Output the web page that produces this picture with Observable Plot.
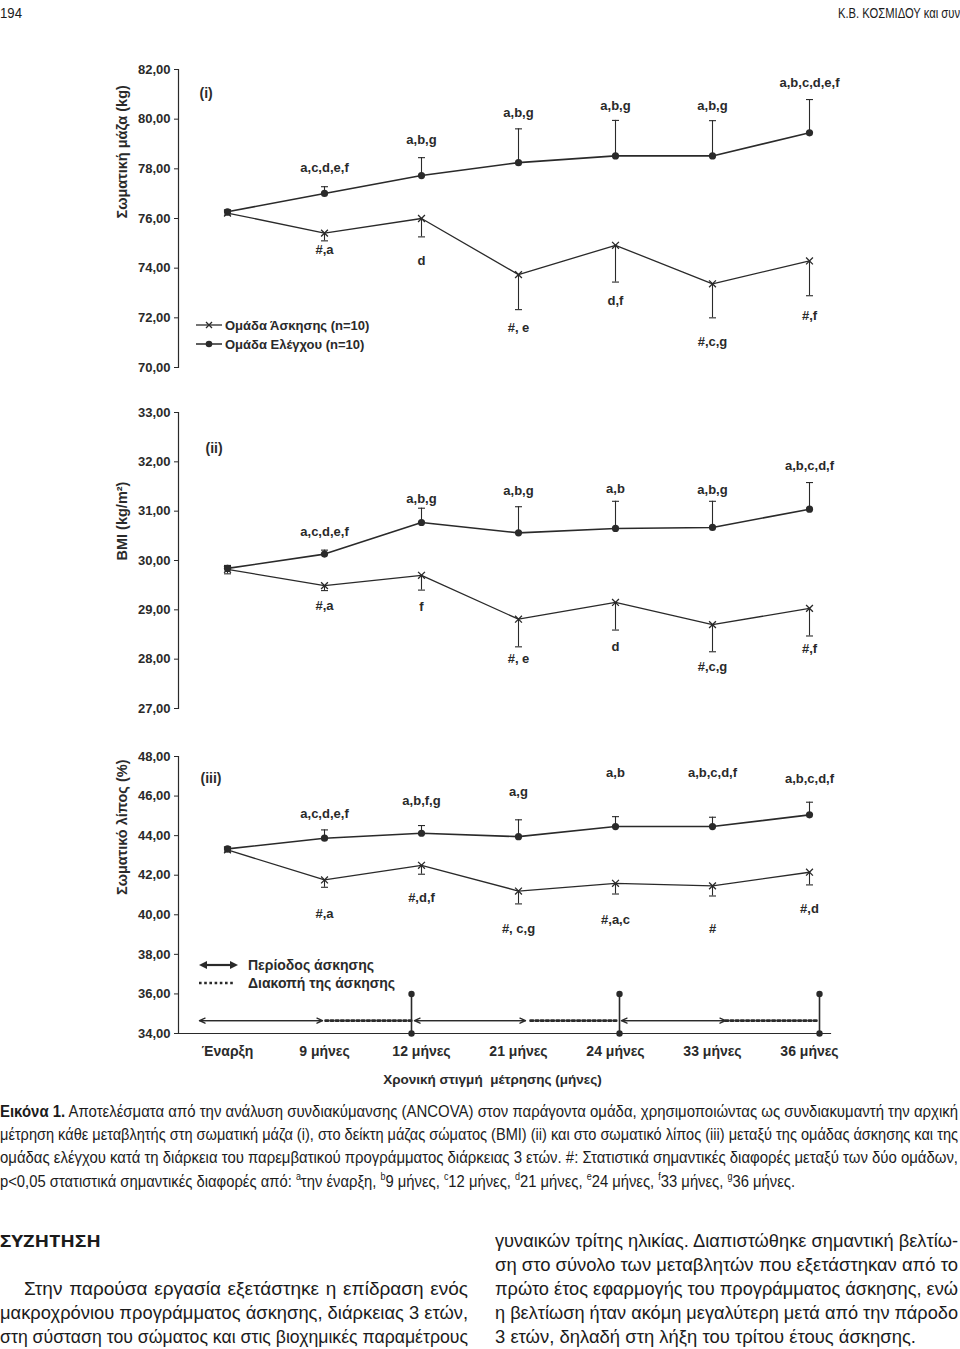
<!DOCTYPE html>
<html lang="el">
<head>
<meta charset="utf-8">
<script src="https://cdn.jsdelivr.net/npm/d3@7"></script>
<script src="https://cdn.jsdelivr.net/npm/@observablehq/plot@0.6"></script>
<style>
html,body{margin:0;padding:0;background:#fff;}
body{position:relative;width:960px;height:1349px;overflow:hidden;color:#1b1b1b;font-family:"Liberation Sans",Arial,sans-serif;}
.a{position:absolute;}
.ln{position:absolute;white-space:nowrap;line-height:1;transform-origin:0 0;}
.bt{font-size:19px;}
svg.legend{position:absolute;overflow:visible;}
</style>
</head>
<body>
<div class="ln" data-w="22" style="left:0;top:5px;font-size:15px;">194</div>
<div class="ln" data-w="122" style="left:838px;top:5px;font-size:15px;">Κ.Β. ΚΟΣΜΙΔΟΥ και συν</div>

<div id="p1" class="a" style="left:0;top:50px"></div>
<div id="p2" class="a" style="left:0;top:395px"></div>
<div id="p3" class="a" style="left:0;top:740px"></div>

<svg class="legend" style="left:0;top:0" width="960" height="1100">
  <g stroke="#2a2a2a" fill="#2a2a2a" font-family="Liberation Sans, Arial, sans-serif" font-weight="bold" font-size="13">
    <line x1="196" y1="325" x2="222" y2="325" stroke-width="1.3"/>
    <path d="M206,322L212,328M212,322L206,328" stroke-width="1.3"/>
    <text x="225" y="329.5" stroke="none">Ομάδα Άσκησης (n=10)</text>
    <line x1="196" y1="344" x2="222" y2="344" stroke-width="1.5"/>
    <circle cx="209" cy="344" r="3.3" stroke="none"/>
    <text x="225" y="348.5" stroke="none">Ομάδα Ελέγχου (n=10)</text>

    <line x1="204" y1="965" x2="233" y2="965" stroke-width="2.2"/>
    <polygon points="199,965 207,961 207,969" stroke="none"/>
    <polygon points="238,965 230,961 230,969" stroke="none"/>
    <text x="248" y="970" stroke="none" font-size="14">Περίοδος άσκησης</text>
    <line x1="199" y1="983" x2="234" y2="983" stroke-width="2.6" stroke-dasharray="2.6 2.6"/>
    <text x="248" y="988" stroke="none" font-size="14">Διακοπή της άσκησης</text>
  </g>
</svg>

<div class="ln" data-w="958" data-j="1" style="left:0;top:1103px;font-size:16.5px;"><b>Εικόνα 1.</b> Αποτελέσματα από την ανάλυση συνδιακύμανσης (ANCOVA) στον παράγοντα ομάδα, χρησιμοποιώντας ως συνδιακυμαντή την αρχική</div>
<div class="ln" data-w="958" data-j="1" style="left:0;top:1126px;font-size:16.5px;">μέτρηση κάθε μεταβλητής στη σωματική μάζα (i), στο δείκτη μάζας σώματος (BMI) (ii) και στο σωματικό λίπος (iii) μεταξύ της ομάδας άσκησης και της</div>
<div class="ln" data-w="958" data-j="1" style="left:0;top:1149px;font-size:16.5px;">ομάδας ελέγχου κατά τη διάρκεια του παρεμβατικού προγράμματος διάρκειας 3 ετών. #: Στατιστικά σημαντικές διαφορές μεταξύ των δύο ομάδων,</div>
<div class="ln" data-w="795" data-j="1" style="left:0;top:1172px;font-size:16.5px;">p&lt;0,05 στατιστικά σημαντικές διαφορές από: <sup style="font-size:10px">a</sup>την έναρξη, <sup style="font-size:10px">b</sup>9 μήνες, <sup style="font-size:10px">c</sup>12 μήνες, <sup style="font-size:10px">d</sup>21 μήνες, <sup style="font-size:10px">e</sup>24 μήνες, <sup style="font-size:10px">f</sup>33 μήνες, <sup style="font-size:10px">g</sup>36 μήνες.</div>

<div class="ln" data-w="101" style="left:0;top:1233px;font-size:16px;font-weight:bold;font-family:'Open Sans','DejaVu Sans',sans-serif;">ΣΥΖΗΤΗΣΗ</div>

<div class="ln bt" data-w="444" data-j="1" style="left:24px;top:1279px;">Στην παρούσα εργασία εξετάστηκε η επίδραση ενός</div>
<div class="ln bt" data-w="468" data-j="1" style="left:0;top:1303px;">μακροχρόνιου προγράμματος άσκησης, διάρκειας 3 ετών,</div>
<div class="ln bt" data-w="468" data-j="1" style="left:0;top:1327px;">στη σύσταση του σώματος και στις βιοχημικές παραμέτρους</div>

<div class="ln bt" data-w="463" data-j="1" style="left:495px;top:1231px;">γυναικών τρίτης ηλικίας. Διαπιστώθηκε σημαντική βελτίω-</div>
<div class="ln bt" data-w="463" data-j="1" style="left:495px;top:1255px;">ση στο σύνολο των μεταβλητών που εξετάστηκαν από το</div>
<div class="ln bt" data-w="463" data-j="1" style="left:495px;top:1279px;">πρώτο έτος εφαρμογής του προγράμματος άσκησης, ενώ</div>
<div class="ln bt" data-w="463" data-j="1" style="left:495px;top:1303px;">η βελτίωση ήταν ακόμη μεγαλύτερη μετά από την πάροδο</div>
<div class="ln bt" data-w="421" data-j="1" style="left:495px;top:1327px;">3 ετών, δηλαδή στη λήξη του τρίτου έτους άσκησης.</div>

<script>
// ---------- DATA ----------
const times = ["Έναρξη","9 μήνες","12 μήνες","21 μήνες","24 μήνες","33 μήνες","36 μήνες"];

// (i) Σωματική μάζα (kg)
const massControl      = [76.27, 77.01, 77.73, 78.25, 78.52, 78.52, 79.45];
const massControlErr   = [0.07, 0.27, 0.72, 1.36, 1.43, 1.42, 1.34];
const massExercise     = [76.22, 75.41, 76.00, 73.74, 74.92, 73.37, 74.29];
const massExerciseErr  = [0.08, 0.31, 0.74, 1.41, 1.48, 1.37, 1.40];
const massControlSig   = ["", "a,c,d,e,f", "a,b,g", "a,b,g", "a,b,g", "a,b,g", "a,b,c,d,e,f"];
const massControlSigY  = [null, 78.05, 79.17, 80.25, 80.52, 80.52, 81.46];
const massExerciseSig  = ["", "#,a", "d", "#, e", "d,f", "#,c,g", "#,f"];
const massExerciseSigY = [null, 74.72, 74.29, 71.58, 72.70, 71.04, 72.09];

// (ii) BMI (kg/m²)
const bmiControl      = [29.84, 30.13, 30.77, 30.56, 30.65, 30.67, 31.04];
const bmiControlErr   = [0.06, 0.08, 0.29, 0.53, 0.55, 0.53, 0.54];
const bmiExercise     = [29.82, 29.49, 29.70, 28.81, 29.15, 28.70, 29.03];
const bmiExerciseErr  = [0.09, 0.10, 0.30, 0.56, 0.56, 0.55, 0.56];
const bmiControlSig   = ["", "a,c,d,e,f", "a,b,g", "a,b,g", "a,b", "a,b,g", "a,b,c,d,f"];
const bmiControlSigY  = [null, 30.58, 31.24, 31.42, 31.46, 31.44, 31.92];
const bmiExerciseSig  = ["", "#,a", "f", "#, e", "d", "#,c,g", "#,f"];
const bmiExerciseSigY = [null, 29.08, 29.06, 28.01, 28.25, 27.84, 28.20];

// (iii) Σωματικό λίπος (%)
const fatControl      = [43.33, 43.87, 44.12, 43.95, 44.46, 44.46, 45.05];
const fatControlErr   = [0.05, 0.42, 0.39, 0.85, 0.50, 0.47, 0.64];
const fatExercise     = [43.28, 41.76, 42.50, 41.20, 41.59, 41.46, 42.15];
const fatExerciseErr  = [0.10, 0.37, 0.45, 0.65, 0.54, 0.51, 0.64];
const fatControlSig   = ["", "a,c,d,e,f", "a,b,f,g", "a,g", "a,b", "a,b,c,d,f", "a,b,c,d,f"];
const fatControlSigY  = [null, 45.10, 45.76, 46.23, 47.19, 47.19, 46.87];
const fatExerciseSig  = ["", "#,a", "#,d,f", "#, c,g", "#,a,c", "#", "#,d"];
const fatExerciseSigY = [null, 40.04, 40.87, 39.28, 39.74, 39.28, 40.28];

// timeline (panel iii)
const exercisePeriods = [["Έναρξη","9 μήνες"],["12 μήνες","21 μήνες"],["24 μήνες","33 μήνες"]];
const breakPeriods    = [["9 μήνες","12 μήνες"],["21 μήνες","24 μήνες"],["33 μήνες","36 μήνες"]];
const assessments     = ["12 μήνες","24 μήνες","36 μήνες"];
const assessRange     = [34, 36];
const timelineY       = 34.65;

// ---------- STYLE ----------
const INK = "#2a2a2a";
const fmt = d => d.toFixed(2).replace(".", ",");
const capSymbol = {draw(ctx){ ctx.moveTo(-3.5,0); ctx.lineTo(3.5,0); }};
const solidNudge = [[-28,2],[-7,-7],[6,-13]];
const dotNudge   = [[1,9],[12,-3],[13,-8]];
const assessNudge = [-10,4,10];

function rows(c, ce, e, ee, cs, csy, es, esy) {
  return times.map((t,i)=>({t, c:c[i], ce:ce[i], e:e[i], ee:ee[i], cs:cs[i], csy:csy[i], es:es[i], esy:esy[i]}));
}

function panel({data, domain, ticks, height, marginTop, marginBottom, ylabel, tag, tagDx, tagDy, extra = [], bottom = false}) {
  return Plot.plot({
    width: 960, height, marginLeft: 178, marginRight: 130, marginTop, marginBottom,
    style: {fontFamily: '"Liberation Sans", Arial, sans-serif', fontSize: "13px", fontWeight: "bold", color: INK, background: "transparent", overflow: "visible"},
    x: {type: "point", domain: times, range: [227, 809], padding: 0, axis: bottom ? undefined : null},
    y: {domain},
    marks: [
      Plot.frame({anchor: "left", stroke: INK, strokeWidth: 1.2}),
      bottom ? Plot.frame({anchor: "bottom", stroke: INK, strokeWidth: 1.2}) : null,
      Plot.axisY({ticks, tickFormat: fmt, tickSize: 4, tickPadding: 4, label: null, stroke: INK}),
      bottom ? Plot.axisX({tickSize: 0, tickPadding: 13, fontSize: 14, label: null}) : null,
      Plot.text([ylabel], {frameAnchor: "left", text: d => d, rotate: -90, dx: -56, fontSize: 14.5}),
      Plot.text([tag], {frameAnchor: "top-left", text: d => d, dx: tagDx, dy: tagDy, textAnchor: "start", fontSize: 14}),
      ...extra,
      // error bars
      Plot.ruleX(data, {x: "t", y1: "c", y2: d => d.c + d.ce, stroke: INK, strokeWidth: 1.1}),
      Plot.dot(data, {x: "t", y: d => d.c + d.ce, symbol: capSymbol, stroke: INK, strokeWidth: 1.1}),
      Plot.ruleX(data, {x: "t", y1: "e", y2: d => d.e - d.ee, stroke: INK, strokeWidth: 1.1}),
      Plot.dot(data, {x: "t", y: d => d.e - d.ee, symbol: capSymbol, stroke: INK, strokeWidth: 1.1}),
      // lines
      Plot.line(data, {x: "t", y: "e", stroke: INK, strokeWidth: 1.3}),
      Plot.line(data, {x: "t", y: "c", stroke: INK, strokeWidth: 1.6}),
      // markers
      Plot.dot(data, {x: "t", y: "e", symbol: "times", r: 3.2, stroke: INK, strokeWidth: 1.3}),
      Plot.dot(data, {x: "t", y: "c", r: 3.6, fill: INK}),
      // significance labels
      Plot.text(data.filter(d => d.cs), {x: "t", y: "csy", text: "cs"}),
      Plot.text(data.filter(d => d.es), {x: "t", y: "esy", text: "es"})
    ]
  });
}

// timeline marks (panel iii)
const timelineMarks = [];
exercisePeriods.forEach((seg, i) => {
  const [s, e] = solidNudge[i];
  const o = {y1: () => timelineY, y2: () => timelineY, stroke: INK, strokeWidth: 1.3, headLength: 7, headAngle: 50};
  timelineMarks.push(Plot.arrow([seg], {...o, x1: d => d[0], x2: d => d[1], insetStart: s, insetEnd: e}));
  timelineMarks.push(Plot.arrow([seg], {...o, x1: d => d[1], x2: d => d[0], insetStart: e, insetEnd: s}));
});
breakPeriods.forEach((seg, i) => {
  const [s, e] = dotNudge[i];
  timelineMarks.push(Plot.arrow([seg], {x1: d => d[0], x2: d => d[1], y1: () => timelineY, y2: () => timelineY,
    insetStart: s, insetEnd: e, headLength: 0, stroke: INK, strokeWidth: 2.6, strokeDasharray: "2.6 2.6"}));
});
assessments.forEach((t, i) => {
  timelineMarks.push(Plot.ruleX([t], {x: d => d, y1: () => assessRange[0], y2: () => assessRange[1], dx: assessNudge[i], stroke: INK, strokeWidth: 1.6}));
  timelineMarks.push(Plot.dot(assessRange.map(y => ({t, y})), {x: "t", y: "y", dx: assessNudge[i], r: 3.2, fill: INK}));
});
timelineMarks.push(Plot.text(["Χρονική στιγμή  μέτρησης (μήνες)"], {frameAnchor: "bottom", text: d => d, dy: 50, dx: -12, fontSize: 13.5}));

document.getElementById("p1").append(panel({
  data: rows(massControl, massControlErr, massExercise, massExerciseErr, massControlSig, massControlSigY, massExerciseSig, massExerciseSigY),
  domain: [70, 82], ticks: d3.range(70, 82.01, 2), height: 330, marginTop: 19, marginBottom: 13,
  ylabel: "Σωματική μάζα (kg)", tag: "(i)", tagDx: 21, tagDy: 19
}));
document.getElementById("p2").append(panel({
  data: rows(bmiControl, bmiControlErr, bmiExercise, bmiExerciseErr, bmiControlSig, bmiControlSigY, bmiExerciseSig, bmiExerciseSigY),
  domain: [27, 33], ticks: d3.range(27, 33.01, 1), height: 330, marginTop: 17, marginBottom: 17,
  ylabel: "BMI (kg/m²)", tag: "(ii)", tagDx: 27, tagDy: 31
}));
document.getElementById("p3").append(panel({
  data: rows(fatControl, fatControlErr, fatExercise, fatExerciseErr, fatControlSig, fatControlSigY, fatExerciseSig, fatExerciseSigY),
  domain: [34, 48], ticks: d3.range(34, 48.01, 2), height: 360, marginTop: 16, marginBottom: 67,
  ylabel: "Σωματικό λίπος (%)", tag: "(iii)", tagDx: 22, tagDy: 17, extra: timelineMarks, bottom: true
}));

// fit text lines to the widths of the page
document.querySelectorAll(".ln[data-w]").forEach(el => {
  const target = +el.dataset.w;
  const w = el.getBoundingClientRect().width;
  if (el.dataset.j && w < target) {
    const n = (el.textContent.match(/ /g) || []).length;
    if (n) el.style.wordSpacing = ((target - w) / n) + "px";
    const w2 = el.getBoundingClientRect().width;
    if (Math.abs(w2 - target) > 1) el.style.transform = `scaleX(${target / w2})`;
  } else {
    el.style.transform = `scaleX(${target / w})`;
  }
});
</script>
</body>
</html>
